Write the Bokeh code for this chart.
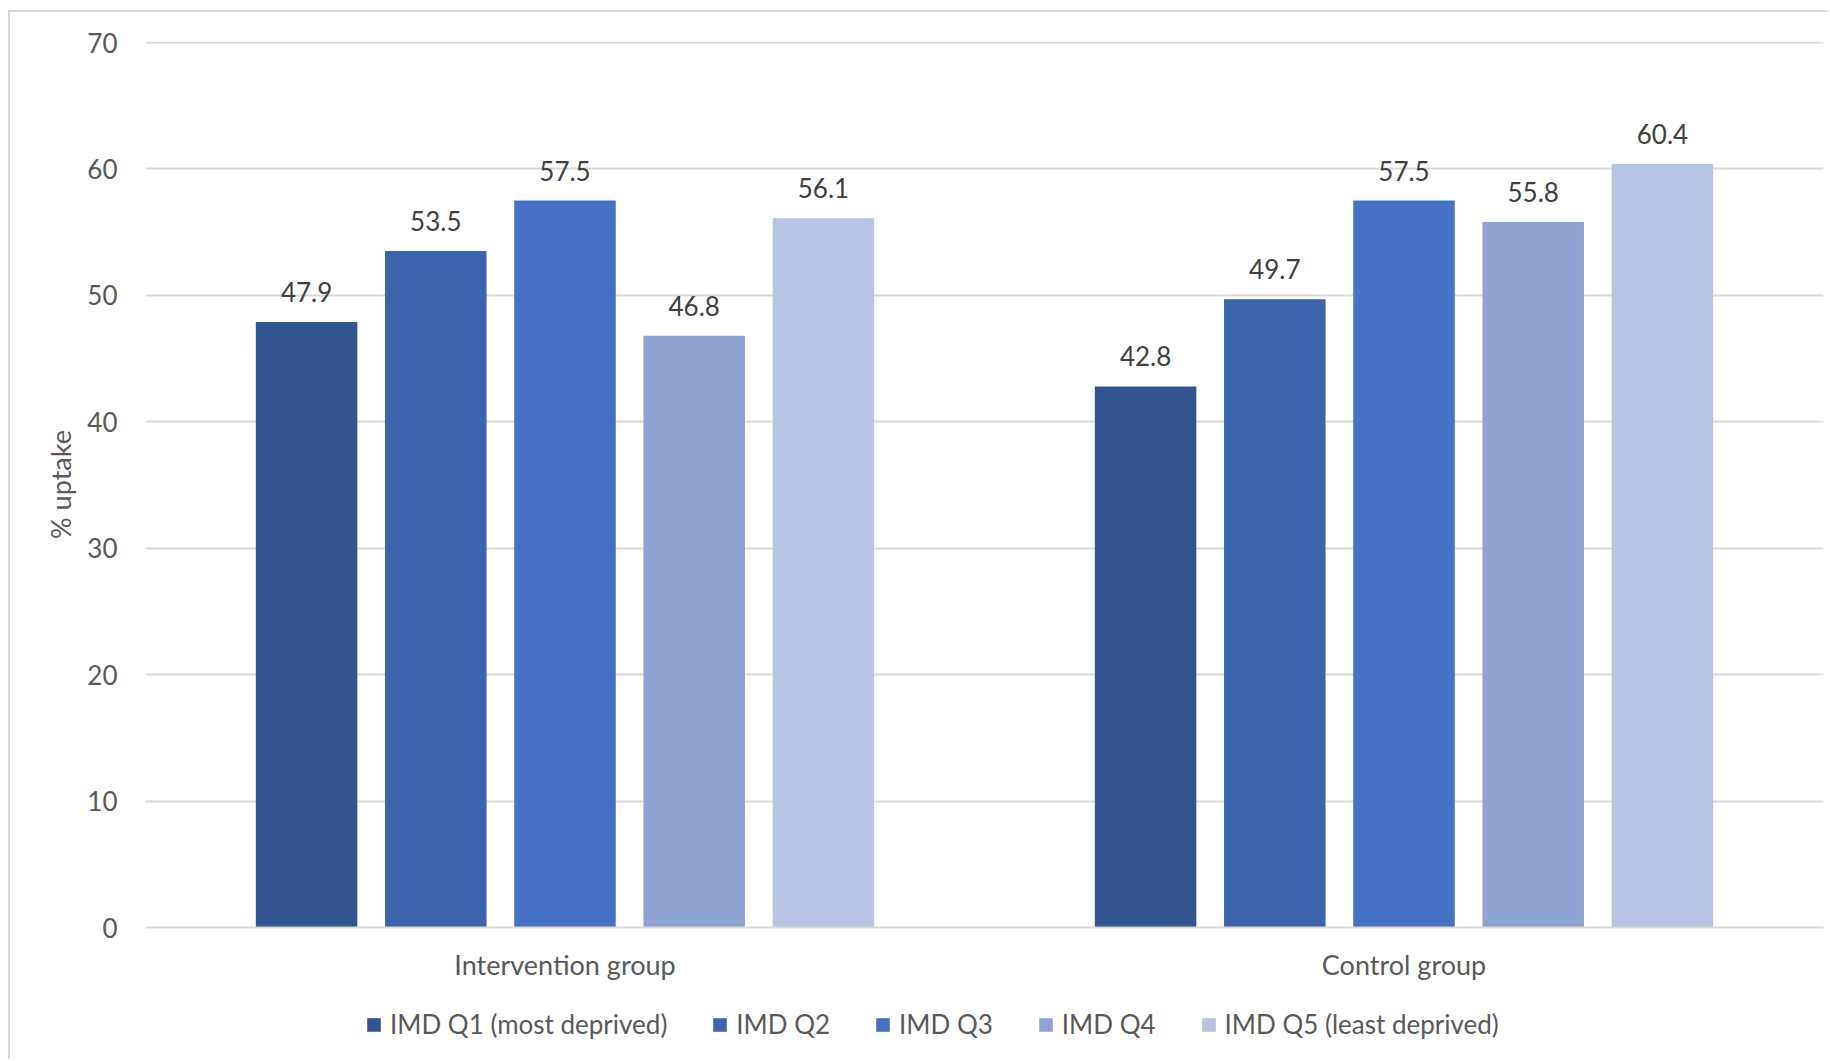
from bokeh.plotting import figure
from bokeh.layouts import column
from bokeh.models import (ColumnDataSource, FactorRange, Range1d, Legend, LegendItem, LabelSet)
from bokeh.transform import dodge
from bokeh.core.properties import value
from bokeh.embed import file_html
from bokeh.resources import INLINE

# ---- data ----
groups = ["Intervention group", "Control group"]
quintiles = ["IMD Q1 (most deprived)", "IMD Q2", "IMD Q3", "IMD Q4", "IMD Q5 (least deprived)"]
q1 = [47.9, 42.8]
q2 = [53.5, 49.7]
q3 = [57.5, 57.5]
q4 = [46.8, 55.8]
q5 = [56.1, 60.4]
y_ticks = [0, 10, 20, 30, 40, 50, 60, 70]

series = [q1, q2, q3, q4, q5]
colors = ["#325592", "#3C64AD", "#4472C4", "#8FA3D4", "#B9C3E2"]
offsets = [-0.308, -0.154, 0.0, 0.154, 0.308]
bar_w = 0.121

FONT = "Lato"
BORDER = "2px solid #D9D9D9"

data = dict(group=groups)
for i, s in enumerate(series):
    data[f"q{i+1}"] = s
    data[f"l{i+1}"] = [f"{v:.1f}" for v in s]
src = ColumnDataSource(data=data)

# ---- main chart ----
p = figure(width=1820, height=988, x_range=FactorRange(*groups), y_range=Range1d(0, 70.08),
           output_backend="svg", toolbar_location=None,
           min_border_left=135, min_border_right=7, min_border_top=29, min_border_bottom=73)
p.margin = (10, 0, 0, 8)
p.styles = {"border-top": BORDER, "border-left": BORDER}
p.outline_line_color = None
p.background_fill_color = "white"
p.border_fill_color = "white"

for i, (s, c, off) in enumerate(zip(series, colors, offsets)):
    p.vbar(x=dodge("group", off, range=p.x_range), top=f"q{i+1}", width=bar_w,
           source=src, fill_color=c, line_color=c, line_width=0)
    lbl = LabelSet(x=dodge("group", off, range=p.x_range), y=f"q{i+1}", text=f"l{i+1}",
                   source=src, text_align="center", text_baseline="middle", y_offset=30,
                   text_font=value(FONT), text_font_size="26px", text_color="#404040")
    p.add_layout(lbl)

p.xgrid.grid_line_color = None
p.ygrid.grid_line_color = "#D9D9D9"
p.ygrid.grid_line_width = 2
p.yaxis.ticker = y_ticks
p.yaxis.axis_line_color = None
p.yaxis.major_tick_line_color = None
p.yaxis.minor_tick_line_color = None
p.yaxis.major_label_standoff = 22
p.yaxis.major_label_text_font = FONT
p.yaxis.major_label_text_font_size = "26px"
p.yaxis.major_label_text_color = "#595959"
p.yaxis.axis_label = "% uptake"
p.yaxis.axis_label_text_font = FONT
p.yaxis.axis_label_text_font_size = "27px"
p.yaxis.axis_label_text_font_style = "normal"
p.yaxis.axis_label_text_color = "#595959"
p.yaxis.axis_label_standoff = 7

p.xaxis.axis_line_color = "#D9D9D9"
p.xaxis.axis_line_width = 2
p.xaxis.major_tick_line_color = None
p.xaxis.minor_tick_line_color = None
p.xaxis.major_label_standoff = 14
p.xaxis.major_label_text_font = FONT
p.xaxis.major_label_text_font_size = "27px"
p.xaxis.major_label_text_color = "#595959"

# ---- legend strip (its bars lie far below its visible y range; only the legend shows) ----
leg = figure(width=1820, height=61, x_range=FactorRange(*groups), y_range=Range1d(1000, 1010),
             output_backend="svg", toolbar_location=None,
             x_axis_location=None, y_axis_location=None,
             min_border_left=0, min_border_right=0, min_border_top=0, min_border_bottom=0)
leg.margin = (0, 0, 0, 8)
leg.styles = {"border-left": BORDER}
leg.outline_line_color = None
leg.xgrid.grid_line_color = None
leg.ygrid.grid_line_color = None
leg.background_fill_color = "white"
leg.border_fill_color = "white"

items = []
for i, (c, off) in enumerate(zip(colors, offsets)):
    r = leg.vbar(x=dodge("group", off, range=leg.x_range), top=f"q{i+1}", width=bar_w,
                 source=src, fill_color=c, line_color=c, line_width=0)
    items.append(LegendItem(label=quintiles[i], renderers=[r]))

legend = Legend(items=items, orientation="horizontal", location=(220, 19),
                glyph_width=17, glyph_height=17, label_standoff=8, spacing=44,
                label_text_font=FONT, label_text_font_size="26px", label_text_color="#595959",
                border_line_color=None, background_fill_alpha=0, padding=0, margin=0)
leg.add_layout(legend, "center")

layout = column(p, leg, spacing=0)
open("out.html", "w").write(file_html(layout, INLINE))
